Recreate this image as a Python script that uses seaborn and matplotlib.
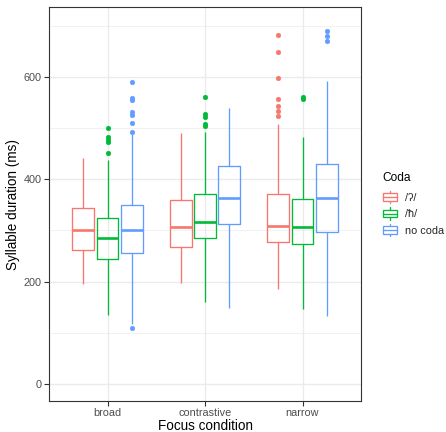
import numpy as np
import pandas as pd
import matplotlib
matplotlib.use("Agg")
import matplotlib.pyplot as plt
import seaborn as sns
from matplotlib.legend_handler import HandlerBase
from matplotlib.patches import Patch, Rectangle
from matplotlib.lines import Line2D

# ---- data ----
focus = ["broad", "contrastive", "narrow"]
coda = ["/ʔ/", "/ħ/", "no coda"]
colors = ["#F8766D", "#00BA38", "#619CFF"]

# rows: focus condition, columns: coda
lower_whisker = [[196, 134, 116], [198, 160, 149], [185, 146, 132]]
q1 = [[261, 244, 255], [267, 286, 312], [277, 273, 296]]
median = [[301, 285, 301], [307, 317, 363], [308, 307, 363]]
q3 = [[343, 324, 349], [359, 371, 425], [371, 362, 429]]
upper_whisker = [[441, 438, 488], [490, 492, 539], [508, 482, 592]]
outliers_low = [[[], [], [109]],
                [[], [], []],
                [[], [], []]]
outliers_high = [[[], [451, 472, 477, 482, 501], [493, 510, 526, 532, 555, 558, 590]],
                 [[], [503, 508, 522, 527, 560], []],
                 [[523, 534, 543, 556, 598, 649, 682], [557, 560], [671, 679, 689]]]


def sample_from_summary(lo, a, med, b, hi, out_lo, out_hi):
    """Sorted sample whose quartiles/whiskers equal the read summary values."""
    m = max(len(out_lo), len(out_hi)) + 2
    vals = (sorted(out_lo) + [lo] * (m - len(out_lo)) + [a] + [a] * (m - 1)
            + [med] + [med] * (m - 1) + [b] + [hi] * (m - len(out_hi)) + sorted(out_hi))
    return vals


rows = []
for i, f in enumerate(focus):
    for j, c in enumerate(coda):
        vals = sample_from_summary(lower_whisker[i][j], q1[i][j], median[i][j], q3[i][j],
                                   upper_whisker[i][j], outliers_low[i][j], outliers_high[i][j])
        for v in vals:
            rows.append((f, c, v))
df = pd.DataFrame(rows, columns=["focus", "coda", "duration"])

# ---- styling ----
sns.set_theme(style="white")
plt.rcParams["font.family"] = ["Liberation Sans", "DejaVu Sans"]

W, H = 446, 432
fig = plt.figure(figsize=(W / 100, H / 100), dpi=100)
ax = fig.add_axes([49 / W, 1 - 400.7 / H, 312 / W, 393.4 / H])

sns.boxplot(data=df, x="focus", y="duration", hue="coda", order=focus, hue_order=coda,
            palette=colors, fill=False, width=0.75, gap=0.1, linewidth=0.95,
            fliersize=3.4, showcaps=False, whis=1.5,
            medianprops=dict(linewidth=1.9), flierprops=dict(marker="o"),
            legend=False, ax=ax)

for ln in ax.lines:
    if ln.get_marker() == "o":
        ln.set_markerfacecolor(ln.get_markeredgecolor())
        ln.set_markeredgewidth(0.3)

ax.set_xlim(-0.6, 2.6)
ax.set_ylim(-33, 736)
ax.set_yticks([0, 200, 400, 600])
ax.set_yticks([100, 300, 500, 700], minor=True)
ax.set_axisbelow(True)
ax.grid(True, which="major", color="#EBEBEB", linewidth=1.0)
ax.grid(True, which="minor", axis="y", color="#EBEBEB", linewidth=0.5)
for s in ax.spines.values():
    s.set_color("#333333")
    s.set_linewidth(0.8)
ax.tick_params(axis="both", which="major", length=3.4, width=0.8, color="#333333",
               labelcolor="#4D4D4D", labelsize=7.8, pad=1.8, left=True, bottom=True)
ax.tick_params(axis="y", which="minor", length=0)
ax.set_xlabel("Focus condition", fontsize=9.75, color="black", labelpad=0.5)
ax.set_ylabel("Syllable duration (ms)", fontsize=9.75, color="black", labelpad=3)


class BoxKeyHandler(HandlerBase):
    def create_artists(self, legend, orig_handle, xdescent, ydescent, width, height,
                       fontsize, trans):
        col = orig_handle.get_edgecolor()
        x0, y0 = -xdescent, -ydescent
        cx = x0 + width / 2
        wl = Line2D([cx, cx], [y0, y0 + height], color=col,
                    linewidth=0.95, transform=trans)
        rect = Rectangle((x0 + width * 0.1, y0 + height * 0.2), width * 0.8, height * 0.6,
                         facecolor="white", edgecolor=col, linewidth=0.95, transform=trans)
        med = Line2D([x0 + width * 0.1, x0 + width * 0.9], [y0 + height / 2] * 2, color=col,
                     linewidth=0.95, transform=trans)
        return [wl, rect, med]


# legend title placed as its own text
fig.text(382.3 / W, 1 - 180.7 / H, "Coda", fontsize=8.6, color="black",
         ha="left", va="baseline")

handles = [Patch(edgecolor=c, facecolor="white") for c in colors]
leg = fig.legend(handles, coda, handler_map={Patch: BoxKeyHandler()},
                 loc="upper left", bbox_to_anchor=(381.5 / W, 1 - 191 / H),
                 frameon=False, fontsize=7.8,
                 handlelength=1.6, handleheight=1.35, labelspacing=0.4,
                 handletextpad=0.6, borderpad=0, borderaxespad=0)

fig.savefig("out.png", dpi=100)
